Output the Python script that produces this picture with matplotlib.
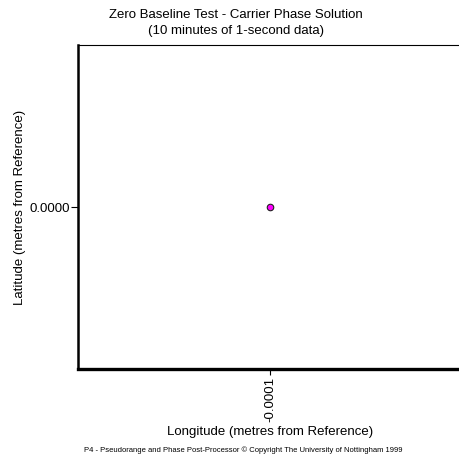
import matplotlib
matplotlib.use("Agg")
import matplotlib.pyplot as plt
from matplotlib.ticker import FixedLocator, FixedFormatter

plt.rcParams['font.family'] = ['Liberation Sans', 'DejaVu Sans']

# Position solutions (metres from reference)
longitude = [-0.0001]
latitude = [0.0000]
x_ticks = [-0.0001]
x_tick_labels = ["-0.0001"]
y_ticks = [0.0000]
y_tick_labels = ["0.0000"]

W = H = 459
fig = plt.figure(figsize=(W / 100, H / 100), dpi=100)

left, right, top, bottom = 78, 462, 45, 369
ax = fig.add_axes([left / W, 1 - bottom / H, (right - left) / W, (bottom - top) / H])

ax.scatter(longitude, latitude, s=22, c='#ff00ff', edgecolors='#202020',
           linewidths=0.8, zorder=3)

half = 0.00011
ax.set_xlim(x_ticks[0] - half, x_ticks[0] + half)
ax.set_ylim(y_ticks[0] - half, y_ticks[0] + half)

ax.xaxis.set_major_locator(FixedLocator(x_ticks))
ax.xaxis.set_major_formatter(FixedFormatter(x_tick_labels))
ax.yaxis.set_major_locator(FixedLocator(y_ticks))
ax.yaxis.set_major_formatter(FixedFormatter(y_tick_labels))

ax.tick_params(axis='x', labelrotation=90, length=4, width=0.8, labelsize=9.5, pad=2)
ax.tick_params(axis='y', length=5, width=0.8, labelsize=9.5, pad=1)

ax.spines['right'].set_visible(False)
ax.spines['top'].set_linewidth(0.8)
ax.spines['left'].set_linewidth(1.8)
ax.spines['bottom'].set_linewidth(2.4)

fig.text(236 / W, 1 - 23 / H, "Zero Baseline Test - Carrier Phase Solution\n(10 minutes of 1-second data)",
         ha='center', va='center', fontsize=9.5, linespacing=1.35)
fig.text(270 / W, 1 - 432 / H, "Longitude (metres from Reference)",
         ha='center', va='center', fontsize=9.5)
fig.text(20 / W, 1 - 207 / H, "Latitude (metres from Reference)",
         ha='center', va='center', rotation=90, fontsize=9.5)
fig.text(243 / W, 1 - 450 / H,
         "P4 - Pseudorange and Phase Post-Processor \u00a9 Copyright The University of Nottingham 1999",
         ha='center', va='center', fontsize=5.5)

fig.savefig("out.png", dpi=100)
